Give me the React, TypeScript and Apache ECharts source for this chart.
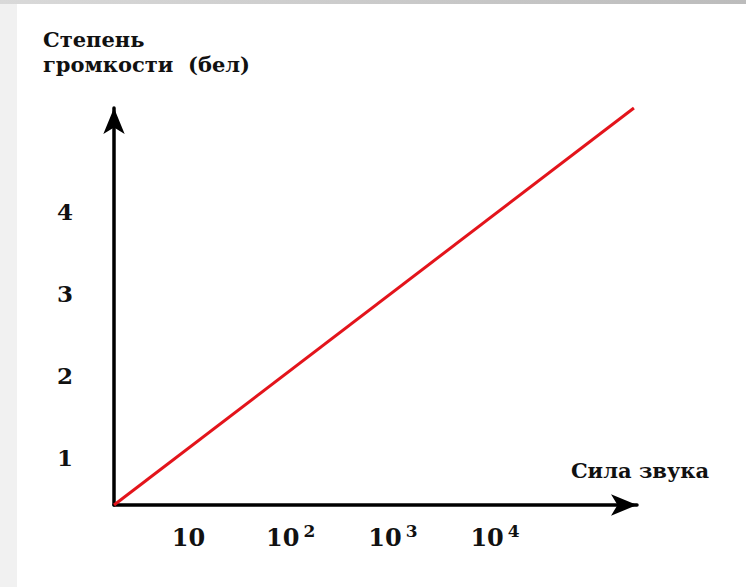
import React, { useEffect, useRef } from "react";
import * as echarts from "echarts";

// Axis titles
const yAxisTitleLines = ["Степень", "громкости  (бел)"];
const xAxisTitle = "Сила звука";

// Tick labels: x axis = sound intensity (powers of ten), y axis = loudness in bels
const xTickValues = [1, 2, 3, 4];
const xTickBase = "10";
const xTickExponents = ["", "2", "3", "4"];
const yTickValues = [1, 2, 3, 4];
const yTickLabels = ["1", "2", "3", "4"];

// Axis extents (in decades / bels) as drawn
const xRange = [0.27, 5.39];
const yRange = [0.42, 5.26];

// The straight line: loudness vs. intensity (start and end points)
const lineX = [0.27, 5.36];
const lineY = [0.42, 5.26];

const FONT = "'DejaVu Serif', serif";

export default function App() {
  const ref = useRef<HTMLDivElement>(null);

  useEffect(() => {
    if (!ref.current) return;
    const chart = echarts.init(ref.current, undefined, { renderer: "svg" });
    const lineData = lineX.map((x, i) => [x, lineY[i]]);

    chart.setOption({
      animation: false,
      backgroundColor: "transparent",
      grid: {
        left: 114,
        right: 109,
        top: 108,
        bottom: 82,
        containLabel: false,
      },
      xAxis: {
        type: "value",
        min: xRange[0],
        max: xRange[1],
        name: xAxisTitle,
        nameLocation: "end",
        nameGap: 3,
        nameTextStyle: {
          fontFamily: FONT,
          fontWeight: "bold",
          fontSize: 21,
          color: "#111",
          align: "center",
          verticalAlign: "bottom",
          padding: [0, 0, 24, 0],
        },
        axisLine: {
          show: true,
          onZero: false,
          symbol: ["none", "arrow"],
          symbolSize: [16, 26],
          lineStyle: { color: "#000", width: 3.5 },
        },
        axisTick: { show: false },
        splitLine: { show: false },
        axisLabel: {
          customValues: xTickValues,
          margin: 17,
          formatter: (v: number) => {
            const i = xTickValues.indexOf(v);
            const e = i >= 0 ? xTickExponents[i] : "";
            return e ? `{b|${xTickBase}}{s|${e}}` : `{b|${xTickBase}}`;
          },
          rich: {
            b: {
              fontFamily: FONT,
              fontWeight: "bold",
              fontSize: 24,
              color: "#111",
              lineHeight: 30,
            },
            s: {
              fontFamily: FONT,
              fontWeight: "bold",
              fontSize: 17,
              color: "#111",
              lineHeight: 18,
              padding: [0, 0, 12, 4],
            },
          },
        },
      },
      yAxis: {
        type: "value",
        min: yRange[0],
        max: yRange[1],
        name: yAxisTitleLines.join("\n"),
        nameLocation: "end",
        nameGap: 31,
        nameTextStyle: {
          fontFamily: FONT,
          fontWeight: "bold",
          fontSize: 21,
          lineHeight: 25,
          color: "#111",
          align: "left",
          verticalAlign: "bottom",
          padding: [0, 0, 0, -71],
        },
        axisLine: {
          show: true,
          onZero: false,
          symbol: ["none", "arrow"],
          symbolSize: [16, 26],
          lineStyle: { color: "#000", width: 3.5 },
        },
        axisTick: { show: false },
        splitLine: { show: false },
        axisLabel: {
          customValues: yTickValues,
          margin: 41,
          formatter: (v: number) => {
            const i = yTickValues.indexOf(v);
            return i >= 0 ? yTickLabels[i] : "";
          },
          fontFamily: FONT,
          fontWeight: "bold",
          fontSize: 23,
          color: "#111",
        },
      },
      series: [
        {
          type: "line",
          data: lineData,
          showSymbol: false,
          symbol: "none",
          clip: false,
          lineStyle: { color: "#e3141b", width: 3 },
        },
      ],
    });

    return () => {
      chart.dispose();
    };
  }, []);

  return (
    <div
      style={{
        position: "fixed",
        left: 0,
        top: 0,
        width: 746,
        height: 587,
        background: "#f1f1f1",
        overflow: "hidden",
      }}
    >
      <div
        style={{
          position: "absolute",
          left: 0,
          top: 0,
          width: 746,
          height: 4,
          background: "linear-gradient(to right, #d9d9d9, #bcbcbc)",
        }}
      />
      <div
        style={{
          position: "absolute",
          left: 17,
          top: 4,
          width: 729,
          height: 583,
          background: "#ffffff",
        }}
      />
      <div
        ref={ref}
        style={{ position: "absolute", left: 0, top: 0, width: 746, height: 587 }}
      />
    </div>
  );
}
